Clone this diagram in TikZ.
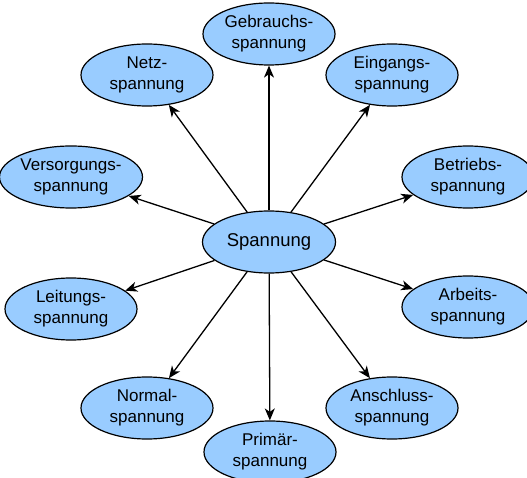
\documentclass[tikz,border=0pt]{standalone}
\usepackage{fontspec}
\setmainfont{Liberation Sans}
\usetikzlibrary{shapes.geometric,arrows.meta}
\definecolor{nodeblue}{RGB}{153,204,255}
\tikzset{
  bubble/.style={ellipse, draw=black, line width=1.2pt, fill=nodeblue,
    minimum width=132pt, minimum height=62pt, inner sep=0pt, align=center,
    font=\fontsize{17}{21}\selectfont},
  hub/.style={bubble, minimum width=133pt, font=\fontsize{18.5}{22}\selectfont},
  link/.style={line width=1.3pt, -{Stealth[length=12pt,width=10pt,inset=3.5pt]}}
}
\begin{document}
\begin{tikzpicture}[x=1pt,y=-1pt]
\useasboundingbox (0,0) rectangle (527,478);
\clip (0,0) rectangle (527,478);
\fill[white] (0,0) rectangle (527,478);
\node[hub] (c) at (269,242) {Spannung};
\node[bubble] (geb) at (269,34) {Gebrauchs-\\spannung};
\node[bubble] (netz) at (147,75) {Netz-\\spannung};
\node[bubble] (ein) at (392,75) {Eingangs-\\spannung};
\node[bubble] (ver) at (71,177) {Versorgungs-\\spannung};
\node[bubble] (bet) at (468,177) {Betriebs-\\spannung};
\node[bubble] (lei) at (71,309) {Leitungs-\\spannung};
\node[bubble] (arb) at (468,307) {Arbeits-\\spannung};
\node[bubble] (nor) at (147,408) {Normal-\\spannung};
\node[bubble] (ans) at (392,408) {Anschluss-\\spannung};
\node[bubble] (pri) at (270,452) {Primär-\\spannung};
\foreach \t in {geb,netz,ein,ver,bet,lei,arb,nor,ans,pri}
  \draw[link] (c) -- (\t);
\end{tikzpicture}
\end{document}
